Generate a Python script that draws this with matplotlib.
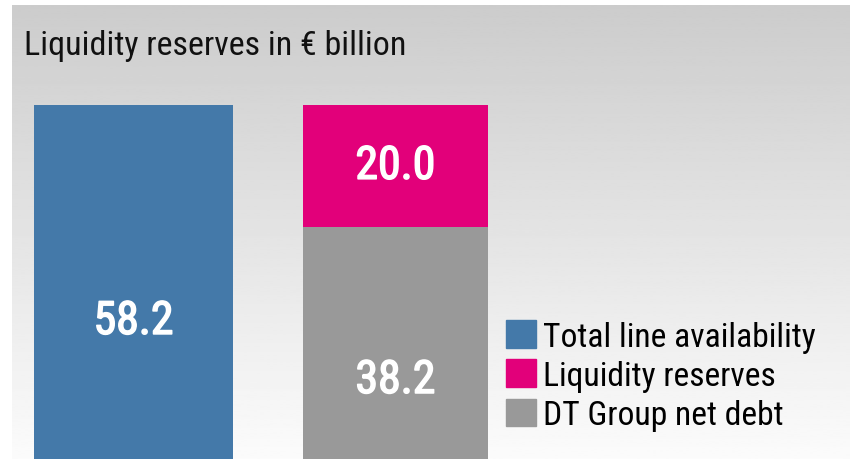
import matplotlib
matplotlib.use("Agg")
import matplotlib.pyplot as plt
import matplotlib.patheffects as pe
import numpy as np
from matplotlib.patches import Patch
from matplotlib import font_manager

# -------------------------
# Data
# -------------------------

title = "Liquidity reserves in € billion"

total_lines = [58.2]
net_debt = [38.2]
reserves = [20.0]

series_labels = [
    "Total line availability",
    "Liquidity reserves",
    "DT Group net debt",
]

colors = ["#4479a9", "#e2007a", "#999999"]

# narrow grotesque face, whichever is on the machine
installed = {f.name for f in font_manager.fontManager.ttflist}
narrow = [n for n in ["Roboto Condensed", "Archivo Narrow", "Liberation Sans Narrow"]
          if n in installed]
plt.rcParams["font.family"] = narrow[:1] + ["DejaVu Sans"]

W, H = 850, 460
fig = plt.figure(figsize=(W / 100, H / 100), dpi=100)

# -------------------------
# Gradient panel behind everything
# -------------------------

bg = fig.add_axes([12 / W, 0, (849 - 12) / W, (H - 6) / H])
grad = np.linspace(0.80, 0.985, 256).reshape(-1, 1)
bg.imshow(grad, aspect="auto", cmap="gray", vmin=0, vmax=1,
          extent=[0, 1, 0, 1], origin="upper")
bg.set_axis_off()

fig.text(24 / W, 1 - 55 / H, title, fontsize=24.5, color="#111111",
         va="baseline", ha="left")

# -------------------------
# Bars
# -------------------------

ax = fig.add_axes([34 / W, 0, (488 - 34) / W, (H - 106) / H])
ax.patch.set_alpha(0)

ax.bar([0], total_lines, width=0.76, color=colors[0])
ax.bar([1], net_debt, width=0.706, color=colors[2])
ax.bar([1], reserves, width=0.706, bottom=net_debt, color=colors[1])

ax.set_xlim(-0.38, 1.353)
ax.set_ylim(0, total_lines[0])
ax.set_axis_off()

# regular face thickened a little with a white outline
label_kw = dict(color="white", fontsize=33, ha="center", va="center",
                path_effects=[pe.withStroke(linewidth=1.1, foreground="white")])
ax.text(0, total_lines[0] * 0.39, f"{total_lines[0]:.1f}", **label_kw)
ax.text(1, net_debt[0] * 0.34, f"{net_debt[0]:.1f}", **label_kw)
ax.text(1, net_debt[0] + reserves[0] / 2, f"{reserves[0]:.1f}", **label_kw)

# -------------------------
# Legend
# -------------------------

handles = [Patch(color=c) for c in colors]
fig.legend(handles, series_labels, loc="upper left",
           bbox_to_anchor=(506 / W, 1 - 321 / H),
           frameon=False, fontsize=24.2,
           handlelength=0.9, handleheight=0.9,
           handletextpad=0.2, labelspacing=0.2,
           borderpad=0, borderaxespad=0)

fig.savefig("out.png", dpi=100)
